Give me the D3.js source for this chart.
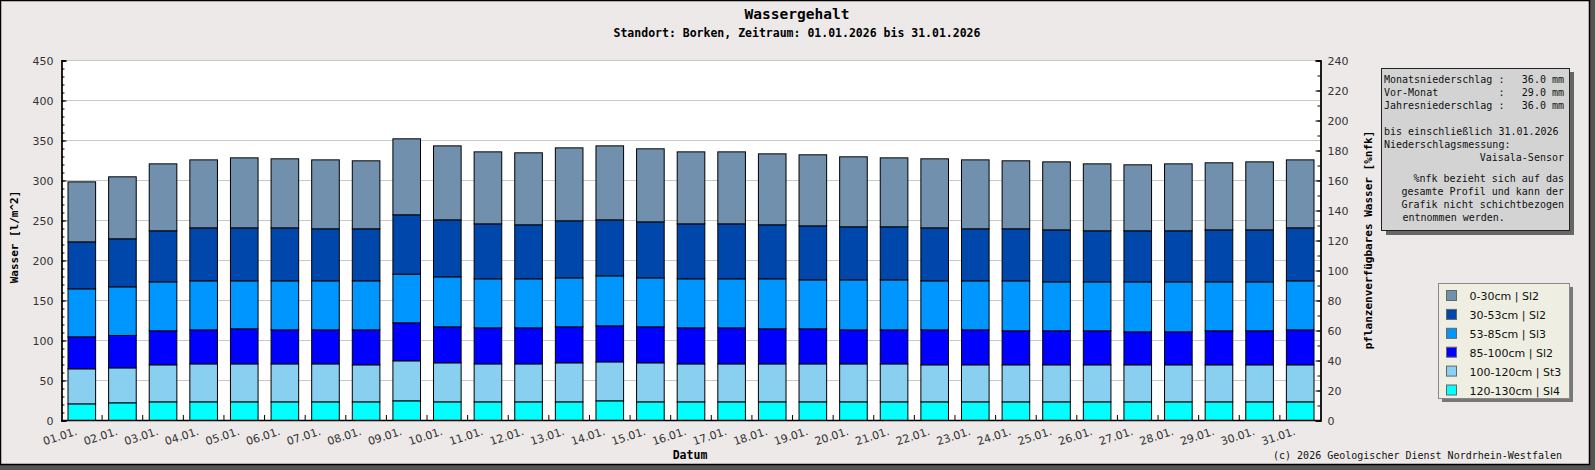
<!DOCTYPE html>
<html>
<head>
<meta charset="utf-8">
<script src="https://cdn.jsdelivr.net/npm/d3@7"></script>
<style>
  body { margin: 0; background: #555; }
  svg { display: block; }
  .mono { font-family: "DejaVu Sans Mono", monospace; }
  .tick text { font-family: "DejaVu Sans", sans-serif; font-size: 11px; fill: #333; }
</style>
</head>
<body>
<div id="chart"></div>
<script>

// Tage im Januar 2026
var days = d3.range(1, 32).map(d => (d < 10 ? "0" + d : "" + d) + ".01.");

// Wassergehalt je Schicht [l/m^2]
var l120_130 = [20.8,22.1,23.3,23.3,23.3,23.3,23.3,23.3,24.6,23.3,23.3,23.3,23.3,24.6,23.3,23.3,23.3,23.3,23.3,23.3,23.3,23.3,23.3,23.3,23.3,23.3,23.3,23.3,23.3,23.3,23.3];
var l100_120 = [43.8,43.7,46.3,47.5,47.5,47.5,47.5,46.3,50.0,48.8,47.5,47.5,48.8,48.7,48.8,47.5,47.5,47.5,47.5,47.5,47.5,46.3,46.3,46.3,46.3,46.3,46.3,46.3,46.3,46.3,46.3];
var l85_100  = [40.0,40.5,42.5,42.5,43.8,42.5,42.5,43.7,47.5,45.0,45.0,45.0,45.0,45.0,45.0,45.0,45.0,43.8,43.8,42.5,42.5,43.7,43.7,42.5,42.5,42.5,41.2,41.2,42.5,42.5,43.7];
var l53_85   = [60.0,60.8,61.2,61.3,60.0,61.3,61.3,61.3,60.8,62.5,61.3,61.3,61.2,62.5,61.2,61.3,61.3,62.5,61.2,62.5,62.5,61.3,61.3,62.5,61.2,61.2,62.5,62.5,61.2,61.2,61.3];
var l30_53   = [58.7,60.0,63.8,66.2,66.2,66.2,65.0,65.0,74.2,71.2,68.7,67.5,71.3,70.0,70.0,68.7,68.7,67.5,67.5,66.3,66.3,66.2,65.0,65.0,65.0,63.8,63.8,63.8,65.0,65.0,66.2];
var l0_30    = [75.0,77.5,83.7,85.0,87.5,86.3,86.2,85.0,95.0,92.5,90.0,90.0,91.2,92.5,91.3,90.0,90.0,88.7,88.8,87.5,86.2,86.3,86.2,85.0,85.0,83.7,82.5,83.7,83.8,85.0,85.0];

// Schichten, von unten nach oben gestapelt
var layerKeys   = ["120-130cm | Sl4", "100-120cm | St3", "85-100cm | Sl2", "53-85cm | Sl3", "30-53cm | Sl2", "0-30cm | Sl2"];
var layerValues = [l120_130, l100_120, l85_100, l53_85, l30_53, l0_30];
var layerColors = ["#00ffff", "#89cff0", "#0000ff", "#0096ff", "#0047ab", "#7090ae"];

var leftTicks  = d3.range(0, 451, 50);
var rightTicks = d3.range(0, 241, 20);

var infoLines = [
  ["Monatsniederschlag :", "36.0 mm"],
  ["Vor-Monat          :", "29.0 mm"],
  ["Jahresniederschlag :", "36.0 mm"]
];

var W = 1595, H = 470;
var margin = {top: 60, left: 61, right: 1320, bottom: 420};

var svg = d3.select("#chart").append("svg").attr("width", W).attr("height", H);

// Rahmen mit Schatten
svg.append("rect").attr("x", 5).attr("y", 5).attr("width", W - 5).attr("height", H - 5).attr("fill", "#555");
svg.append("rect").attr("x", 0.5).attr("y", 0.5).attr("width", 1589).attr("height", 464)
  .attr("fill", "#ece9e8").attr("stroke", "#000").attr("stroke-width", 1.5);

// Titel
svg.append("text").attr("class", "mono").attr("x", 797).attr("y", 19)
  .attr("text-anchor", "middle").attr("font-weight", "bold").attr("font-size", "14.5px")
  .text("Wassergehalt");
svg.append("text").attr("class", "mono").attr("x", 797).attr("y", 37)
  .attr("text-anchor", "middle").attr("font-weight", "bold").attr("font-size", "11.5px")
  .text("Standort: Borken, Zeitraum: 01.01.2026 bis 31.01.2026");

// Skalen
var x = d3.scaleBand().domain(days).range([margin.left, margin.right]).paddingInner(0.32).paddingOuter(0.16);
var y = d3.scaleLinear().domain([0, 450]).range([margin.bottom, margin.top]);
var y2 = d3.scaleLinear().domain([0, 240]).range([margin.bottom, margin.top]);

svg.append("rect").attr("x", margin.left).attr("y", margin.top)
  .attr("width", margin.right - margin.left).attr("height", margin.bottom - margin.top).attr("fill", "#fff");

// Gitter
svg.append("g").selectAll("line").data(leftTicks.filter(d => d > 0)).enter().append("line")
  .attr("x1", margin.left).attr("x2", margin.right)
  .attr("y1", d => y(d) + 0.5).attr("y2", d => y(d) + 0.5)
  .attr("stroke", "#c8c8c8").attr("stroke-width", 1);

// Balken
var rows = days.map(function(d, i) {
  var r = {day: d};
  layerKeys.forEach((k, j) => r[k] = layerValues[j][i]);
  return r;
});
var stack = d3.stack().keys(layerKeys)(rows);

svg.append("g").selectAll("g").data(stack).enter().append("g")
  .attr("fill", (d, i) => layerColors[i])
  .selectAll("rect").data(d => d).enter().append("rect")
  .attr("x", d => x(d.data.day) + 0.5)
  .attr("y", d => y(d[1]) + 0.5)
  .attr("width", x.bandwidth())
  .attr("height", d => y(d[0]) - y(d[1]))
  .attr("stroke", "#000").attr("stroke-width", 1);

// linke Achse
var axL = svg.append("g").attr("transform", `translate(${margin.left + 0.5},0.5)`)
  .call(d3.axisLeft(y).tickValues(leftTicks).tickSize(-5).tickPadding(8));
svg.append("g").attr("transform", `translate(${margin.left + 0.5},0.5)`)
  .call(d3.axisLeft(y).tickValues(d3.range(0, 451, 10)).tickSize(-3).tickFormat(""));

// rechte Achse
svg.append("g").attr("transform", `translate(${margin.right + 0.5},0.5)`)
  .call(d3.axisRight(y2).tickValues(rightTicks).tickSize(-5).tickPadding(7));
svg.append("g").attr("transform", `translate(${margin.right + 0.5},0.5)`)
  .call(d3.axisRight(y2).tickValues(d3.range(0, 241, 10)).tickSize(-3).tickFormat(""));

svg.selectAll(".domain").attr("stroke", "#000").attr("stroke-width", 1.3);
svg.selectAll(".tick line").attr("stroke", "#000");

// untere Achse
var gap = (x.step() - x.bandwidth()) / 2;
svg.append("g").selectAll("line").data(days.slice(1)).enter().append("line")
  .attr("x1", d => x(d) - gap + 0.5).attr("x2", d => x(d) - gap + 0.5)
  .attr("y1", margin.bottom).attr("y2", margin.bottom - 5)
  .attr("stroke", "#000");
svg.append("line").attr("x1", margin.left).attr("x2", margin.right + 1)
  .attr("y1", margin.bottom + 0.5).attr("y2", margin.bottom + 0.5)
  .attr("stroke", "#000").attr("stroke-width", 1.3);

svg.append("g").selectAll("text").data(days).enter().append("text")
  .attr("transform", d => `translate(${x(d) + x.bandwidth() / 2 - 3.5},434.5) rotate(-18)`)
  .attr("text-anchor", "end")
  .attr("font-family", "DejaVu Sans, sans-serif").attr("font-size", "11px").attr("fill", "#333")
  .text(d => d);

// Achsentitel
svg.append("text").attr("class", "mono").attr("x", 690).attr("y", 459)
  .attr("text-anchor", "middle").attr("font-weight", "bold").attr("font-size", "11.5px").text("Datum");
svg.append("text").attr("class", "mono")
  .attr("transform", "translate(17.5,237) rotate(-90)")
  .attr("text-anchor", "middle").attr("font-weight", "bold").attr("font-size", "11px").text("Wasser [l/m^2]");
svg.append("text").attr("class", "mono")
  .attr("transform", "translate(1372,240) rotate(-90)")
  .attr("text-anchor", "middle").attr("font-weight", "bold").attr("font-size", "11px")
  .text("pflanzenverfügbares Wasser [%nfk]");

// Infobox
svg.append("rect").attr("x", 1386).attr("y", 72).attr("width", 188).attr("height", 163).attr("fill", "#666");
svg.append("rect").attr("x", 1381.5).attr("y", 68.5).attr("width", 188).attr("height", 162)
  .attr("fill", "#d3d3d3").attr("stroke", "#222");
var info = svg.append("g").attr("class", "mono").attr("font-size", "10px").attr("fill", "#111");
infoLines.forEach(function(l, i) {
  info.append("text").attr("x", 1384).attr("y", 83 + i * 13).attr("xml:space", "preserve").text(l[0]);
  info.append("text").attr("x", 1564).attr("y", 83 + i * 13).attr("text-anchor", "end").text(l[1]);
});
info.append("text").attr("x", 1384).attr("y", 135).text("bis einschließlich 31.01.2026");
info.append("text").attr("x", 1384).attr("y", 148).text("Niederschlagsmessung:");
info.append("text").attr("x", 1564).attr("y", 161).attr("text-anchor", "end").text("Vaisala-Sensor");
info.append("text").attr("x", 1564).attr("y", 182).attr("text-anchor", "end").text("%nfk bezieht sich auf das");
info.append("text").attr("x", 1564).attr("y", 195).attr("text-anchor", "end").text("gesamte Profil und kann der");
info.append("text").attr("x", 1564).attr("y", 208).attr("text-anchor", "end").text("Grafik nicht schichtbezogen");
info.append("text").attr("x", 1402.5).attr("y", 221).text("entnommen werden.");

// Legende
svg.append("rect").attr("x", 1442).attr("y", 287).attr("width", 131).attr("height", 115).attr("fill", "#777");
svg.append("rect").attr("x", 1438.5).attr("y", 283.5).attr("width", 131).attr("height", 115)
  .attr("fill", "#eeeee2").attr("stroke", "#888");
var legend = svg.append("g").selectAll("g").data(layerKeys.slice().reverse()).enter().append("g")
  .attr("transform", (d, i) => `translate(1446.5,${290.5 + i * 18.9})`);
legend.append("rect").attr("width", 10).attr("height", 10)
  .attr("fill", d => layerColors[layerKeys.indexOf(d)]).attr("stroke", "#666");
legend.append("text").attr("x", 23).attr("y", 9.5)
  .attr("font-family", "DejaVu Sans, sans-serif").attr("font-size", "11px").attr("fill", "#111")
  .text(d => d);

svg.append("text").attr("class", "mono").attr("x", 1562).attr("y", 459)
  .attr("text-anchor", "end").attr("font-size", "10px").attr("fill", "#111")
  .text("(c) 2026 Geologischer Dienst Nordrhein-Westfalen");

</script>
</body>
</html>
